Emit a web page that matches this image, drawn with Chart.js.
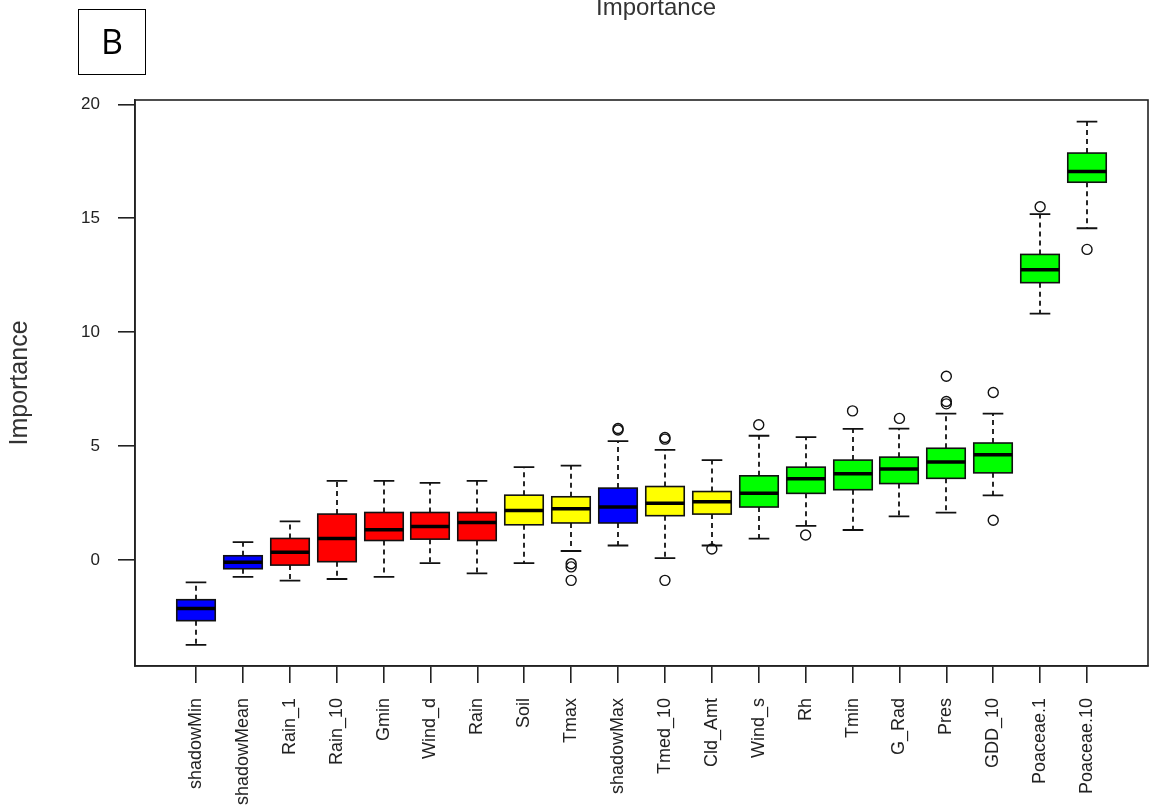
<!doctype html>
<html lang="en">
<head>
  <meta charset="utf-8" />
  <title>Importance</title>
  <script src="https://cdn.jsdelivr.net/npm/chart.js"></script>
  <style>
    * { box-sizing: border-box; }
    body { margin: 0; background: #fff; }
    .wrap { position: relative; width: 1150px; height: 811px; overflow: hidden; }
    .main-title {
      position: absolute; left: 0; width: 1312px; top: -5px; text-align: center;
      font: 24px/1 "Liberation Sans", Arial, sans-serif; color: #333;
    }
    .panel-tag {
      position: absolute; left: 78px; top: 9px; width: 68px; height: 66px;
      border: 1.5px solid #000; text-align: center;
      font: 34px/63px "Open Sans", sans-serif; color: #000;
    }
  </style>
</head>
<body>
<div class="wrap">
  <canvas id="chart" width="1150" height="811"></canvas>
  <div class="main-title">Importance</div>
  <div class="panel-tag">B</div>
</div>
<script>
// attributes, sorted by median importance
const categories = [
  "shadowMin", "shadowMean", "Rain_1", "Rain_10", "Gmin", "Wind_d", "Rain", "Soil",
  "Tmax", "shadowMax", "Tmed_10", "Cld_Amt", "Wind_s", "Rh", "Tmin", "G_Rad",
  "Pres", "GDD_10", "Poaceae.1", "Poaceae.10"
];
const whiskerHigh = [-0.99, 0.78, 1.69, 3.47, 3.47, 3.38, 3.47, 4.07, 4.14, 5.21, 4.83, 4.38, 5.45, 5.39, 5.75, 5.76, 6.42, 6.42, 15.18, 19.24];
const upperQuartile = [-1.75, 0.18, 0.94, 2.01, 2.08, 2.08, 2.08, 2.84, 2.77, 3.15, 3.22, 3.00, 3.69, 4.07, 4.38, 4.51, 4.90, 5.13, 13.41, 17.86];
const medians = [-2.14, -0.11, 0.33, 0.94, 1.32, 1.47, 1.64, 2.17, 2.24, 2.32, 2.48, 2.55, 2.93, 3.56, 3.78, 3.99, 4.30, 4.62, 12.74, 17.05];
const lowerQuartile = [-2.67, -0.39, -0.23, -0.08, 0.85, 0.91, 0.85, 1.54, 1.62, 1.62, 1.94, 2.01, 2.32, 2.92, 3.08, 3.35, 3.58, 3.82, 12.17, 16.58];
const whiskerLow = [-3.73, -0.75, -0.91, -0.84, -0.75, -0.14, -0.59, -0.14, 0.39, 0.63, 0.08, 0.63, 0.93, 1.49, 1.31, 1.91, 2.07, 2.83, 10.81, 14.56];
const outliers = [
  [], [], [], [], [], [], [], [],
  [-0.17, -0.31, -0.90],
  [5.70, 5.77],
  [5.30, 5.37, -0.90],
  [0.48],
  [5.93],
  [1.09],
  [6.54],
  [6.21],
  [8.06, 6.85, 6.95],
  [7.35, 1.74],
  [15.50],
  [13.63]
];
const yTicks = [0, 5, 10, 15, 20];

// shadow = blue, rejected = red, tentative = yellow, confirmed = green
const decision = ["shadow", "shadow", "rej", "rej", "rej", "rej", "rej", "tent", "tent", "shadow",
  "tent", "tent", "ok", "ok", "ok", "ok", "ok", "ok", "ok", "ok"];
const fillFor = { shadow: "#0000ff", rej: "#ff0000", tent: "#ffff00", ok: "#00ff00" };

const FONT = '"Liberation Sans", Arial, sans-serif';

const outlierPoints = [];
outliers.forEach((vals, i) => vals.forEach(v => outlierPoints.push({ x: i + 1, y: v })));

const boxPlot = {
  id: "boxPlot",
  beforeDatasetsDraw(chart) {
    const { ctx, scales: { x, y } } = chart;
    const half = x.getPixelForValue(1.41) - x.getPixelForValue(1);
    const staple = x.getPixelForValue(1.22) - x.getPixelForValue(1);
    ctx.save();
    ctx.strokeStyle = "#111";
    categories.forEach((_, i) => {
      const cx = Math.round(x.getPixelForValue(i + 1));
      const hi = y.getPixelForValue(whiskerHigh[i]);
      const q3 = y.getPixelForValue(upperQuartile[i]);
      const md = y.getPixelForValue(medians[i]);
      const q1 = y.getPixelForValue(lowerQuartile[i]);
      const lo = y.getPixelForValue(whiskerLow[i]);

      // dashed whiskers
      ctx.lineWidth = 1.8;
      ctx.setLineDash([5, 4]);
      ctx.beginPath();
      ctx.moveTo(cx, q3); ctx.lineTo(cx, hi);
      ctx.moveTo(cx, q1); ctx.lineTo(cx, lo);
      ctx.stroke();
      ctx.setLineDash([]);

      // staples
      ctx.beginPath();
      ctx.moveTo(cx - staple, hi); ctx.lineTo(cx + staple, hi);
      ctx.moveTo(cx - staple, lo); ctx.lineTo(cx + staple, lo);
      ctx.stroke();

      // box
      ctx.fillStyle = fillFor[decision[i]];
      ctx.fillRect(cx - half, q3, half * 2, q1 - q3);
      ctx.lineWidth = 1.6;
      ctx.strokeRect(cx - half, q3, half * 2, q1 - q3);

      // median
      ctx.strokeStyle = "#000";
      ctx.lineWidth = 3.5;
      ctx.beginPath();
      ctx.moveTo(cx - half, md); ctx.lineTo(cx + half, md);
      ctx.stroke();
      ctx.strokeStyle = "#111";
    });
    ctx.restore();
  },
  afterDraw(chart) {
    const { ctx, chartArea: a } = chart;
    ctx.save();
    ctx.strokeStyle = "#222";
    ctx.lineWidth = 1.6;
    ctx.strokeRect(a.left, a.top, a.right - a.left, a.bottom - a.top);
    ctx.restore();
  }
};

new Chart(document.getElementById("chart"), {
  type: "scatter",
  data: {
    datasets: [{
      label: "outliers",
      data: outlierPoints,
      pointStyle: "circle",
      pointRadius: 5,
      pointBorderWidth: 1.4,
      pointBackgroundColor: "rgba(0,0,0,0)",
      pointBorderColor: "#111"
    }]
  },
  options: {
    responsive: false,
    animation: false,
    events: [],
    layout: { autoPadding: false, padding: { top: 100, right: 2, left: 0, bottom: 0 } },
    plugins: { legend: { display: false }, tooltip: { enabled: false }, title: { display: false } },
    scales: {
      x: {
        type: "linear",
        min: -0.3,
        max: 21.3,
        afterBuildTicks: s => { s.ticks = categories.map((_, i) => ({ value: i + 1 })); },
        afterFit: s => { s.height = 145; s.paddingLeft = 0; s.paddingRight = 0; },
        ticks: {
          autoSkip: false,
          minRotation: 90,
          maxRotation: 90,
          padding: 15,
          color: "#222",
          font: { family: FONT, size: 18 },
          callback: v => categories[v - 1]
        },
        grid: { drawOnChartArea: false, tickLength: 17, color: "#222", lineWidth: 1.6 },
        border: { display: true, color: "#222", width: 1.6 }
      },
      y: {
        type: "linear",
        min: -4.66,
        max: 20.19,
        afterBuildTicks: s => { s.ticks = yTicks.map(v => ({ value: v })); },
        afterFit: s => { s.width = 135; s.paddingTop = 0; s.paddingBottom = 0; },
        ticks: {
          padding: 18,
          color: "#222",
          font: { family: FONT, size: 17 }
        },
        grid: { drawOnChartArea: false, tickLength: 17, color: "#222", lineWidth: 1.6 },
        border: { display: true, color: "#222", width: 1.6 },
        title: {
          display: true,
          text: "Importance",
          color: "#333",
          font: { family: FONT, size: 25 },
          padding: { top: 5, bottom: 0 }
        }
      }
    }
  },
  plugins: [boxPlot]
});
</script>
</body>
</html>
